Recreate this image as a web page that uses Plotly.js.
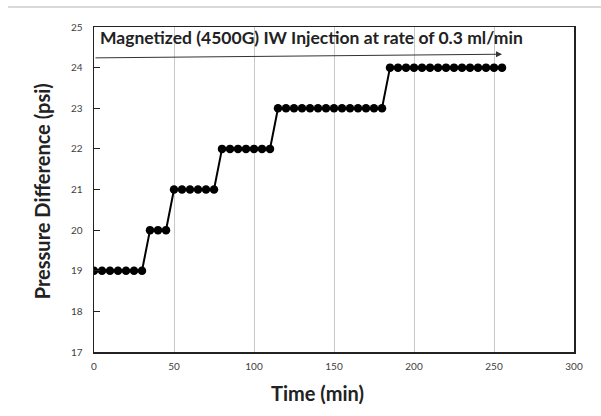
<!DOCTYPE html>
<html>
<head>
<meta charset="utf-8">
<script src="https://cdn.plot.ly/plotly-3.0.1.min.js"></script>
<style>html,body{margin:0;padding:0;background:#fff;}#chart{width:601px;height:416px;}</style>
</head>
<body>
<div id="chart"></div>
<script>
const timeMin = [0,5,10,15,20,25,30,35,40,45,50,55,60,65,70,75,80,85,90,95,100,105,110,115,120,125,130,135,140,145,150,155,160,165,170,175,180,185,190,195,200,205,210,215,220,225,230,235,240,245,250,255];
const pressurePsi = [19,19,19,19,19,19,19,20,20,20,21,21,21,21,21,21,22,22,22,22,22,22,22,23,23,23,23,23,23,23,23,23,23,23,23,23,23,24,24,24,24,24,24,24,24,24,24,24,24,24,24,24];
const xTicks = [0,50,100,150,200,250,300];
const yTicks = [17,18,19,20,21,22,23,24,25];
const chartTitle = "Magnetized (4500G) IW Injection at rate of 0.3 ml/min";
const xTitle = "Time (min)";
const yTitle = "Pressure Difference (psi)";
const arrowStart = [0, 24.24];
const arrowEnd = [255, 24.33];

const FONT = "Lato, 'Open Sans', sans-serif";

const trace = {
  x: timeMin, y: pressurePsi, type: 'scatter', mode: 'lines+markers',
  line: {color: '#000', width: 2},
  marker: {color: '#000', size: 8.5, symbol: 'circle'},
  showlegend: false, hoverinfo: 'skip'
};

const layout = {
  width: 601, height: 416,
  margin: {l: 94, r: 27, t: 27, b: 64},
  paper_bgcolor: '#fff', plot_bgcolor: '#fff',
  font: {family: FONT, color: '#404040'},
  xaxis: {
    range: [0, 300], tickvals: xTicks, ticktext: xTicks.map(String),
    showgrid: true, gridcolor: '#c8c8c8', gridwidth: 1,
    zeroline: false, showline: true, linecolor: '#222', linewidth: 1.5, mirror: true,
    ticks: '', ticklabelstandoff: 4, tickfont: {size: 10, color: '#404040', family: FONT}
  },
  yaxis: {
    range: [17, 25], tickvals: yTicks, ticktext: yTicks.map(String),
    showgrid: false, zeroline: false, showline: true, linecolor: '#222', linewidth: 1.5, mirror: true,
    ticks: 'inside', ticklen: 6, tickcolor: '#222', tickwidth: 1, ticklabelstandoff: 8,
    tickfont: {size: 10, color: '#404040', family: FONT}
  },
  annotations: [
    {text: '<b>' + chartTitle + '</b>', xref: 'paper', yref: 'paper', x: 0.008, y: 1.005,
     xanchor: 'left', yanchor: 'top', showarrow: false, font: {size: 17.5, color: '#222', family: FONT}},
    {x: arrowEnd[0], y: arrowEnd[1], ax: arrowStart[0], ay: arrowStart[1],
     xref: 'x', yref: 'y', axref: 'x', ayref: 'y', text: '', showarrow: true,
     arrowhead: 2, arrowsize: 1.2, arrowwidth: 1, arrowcolor: '#333'},
    {text: '<b>' + xTitle + '</b>', xref: 'paper', yref: 'paper', x: 0.4646, y: -0.126,
     xanchor: 'center', yanchor: 'middle', showarrow: false, font: {size: 20, color: '#222', family: FONT}},
    {text: '<b>' + yTitle + '</b>', xref: 'paper', yref: 'paper', x: -0.108, y: 0.495, textangle: -90,
     xanchor: 'center', yanchor: 'middle', showarrow: false, font: {size: 20, color: '#222', family: FONT}}
  ],
  shapes: [
    {type: 'line', xref: 'paper', yref: 'paper', layer: 'above', x0: -0.179, x1: 1.06, y0: 1.0615, y1: 1.0615,
     line: {color: '#b4b4b4', width: 1.2}}
  ]
};

Plotly.newPlot('chart', [trace], layout, {staticPlot: true, displayModeBar: false});
</script>
</body>
</html>
